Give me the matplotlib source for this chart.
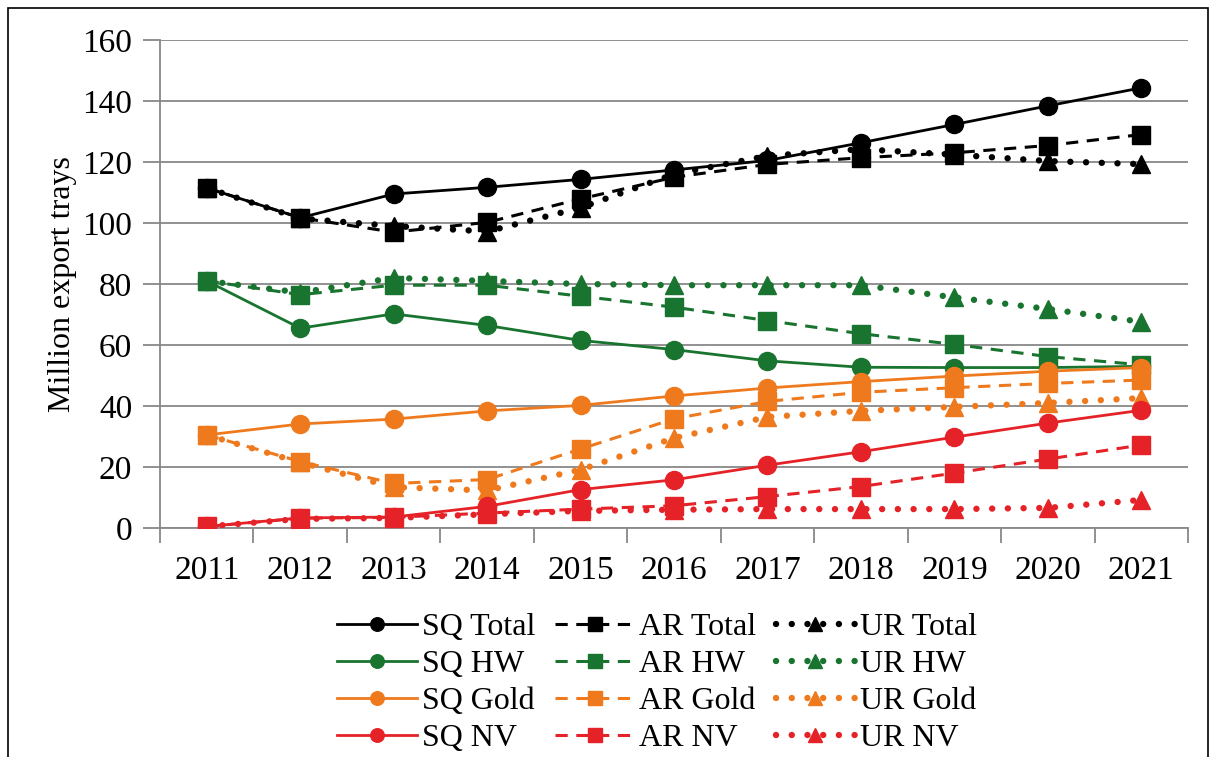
import matplotlib.pyplot as plt
from matplotlib.patches import Rectangle

years = [2011, 2012, 2013, 2014, 2015, 2016, 2017, 2018, 2019, 2020, 2021]

sq_total = [111.5, 101.7, 109.5, 111.7, 114.3, 117.4, 120.5, 126.3, 132.3, 138.4, 144.3]
ar_total = [111.5, 101.7, 97.0, 100.2, 107.9, 115.0, 119.2, 121.4, 123.0, 125.4, 129.0]
ur_total = [111.5, 101.5, 99.0, 97.2, 105.0, 116.0, 122.0, 124.2, 122.4, 120.3, 119.3]

sq_hw = [81.0, 65.5, 70.2, 66.4, 61.5, 58.5, 54.8, 52.7, 52.6, 52.6, 53.0]
ar_hw = [81.0, 76.5, 79.6, 79.6, 76.0, 72.4, 68.0, 63.7, 60.2, 56.2, 53.5]
ur_hw = [81.0, 77.2, 82.0, 81.0, 80.0, 79.6, 79.6, 79.6, 75.6, 71.8, 67.6]

sq_gold = [30.5, 34.1, 35.7, 38.4, 40.2, 43.3, 45.9, 48.0, 49.8, 51.4, 52.6]
ar_gold = [30.5, 21.8, 14.6, 15.9, 25.9, 35.8, 41.5, 44.5, 46.0, 47.4, 48.5]
ur_gold = [30.5, 21.5, 13.4, 12.3, 19.1, 29.5, 36.4, 38.4, 39.7, 41.0, 42.6]

sq_nv = [0.5, 3.3, 3.6, 7.1, 12.6, 15.8, 20.6, 25.0, 29.8, 34.4, 38.6]
ar_nv = [0.5, 3.2, 3.5, 4.9, 6.2, 7.3, 10.3, 13.6, 18.0, 22.6, 27.2]
ur_nv = [0.5, 3.0, 3.3, 4.5, 5.6, 6.0, 6.2, 6.2, 6.2, 6.6, 9.2]

black = '#000000'
green = '#19742f'
orange = '#ef7a1e'
red = '#e52227'

plt.rcParams['font.family'] = ['Liberation Serif', 'DejaVu Serif']

fig = plt.figure(figsize=(12.15, 7.57), dpi=100)
ax = fig.add_axes([0.1317, 0.3025, 0.9778 - 0.1317, 0.9472 - 0.3025])

groups = [
    ('Total', black, sq_total, ar_total, ur_total),
    ('HW', green, sq_hw, ar_hw, ur_hw),
    ('Gold', orange, sq_gold, ar_gold, ur_gold),
    ('NV', red, sq_nv, ar_nv, ur_nv),
]

sq_h, ar_h, ur_h = [], [], []
for name, col, sq, ar, ur in groups:
    l1, = ax.plot(years, sq, '-', color=col, lw=2.0, marker='o', ms=13,
                  mec=col, mfc=col, label='SQ ' + name, zorder=3)
    l2, = ax.plot(years, ar, color=col, lw=2.2, dashes=(4, 2.8), marker='s',
                  ms=13.5, mec=col, mfc=col, label='AR ' + name, zorder=3)
    l3, = ax.plot(years, ur, color=col, lw=4.6, dashes=(0.01, 2.45),
                  dash_capstyle='round', marker='^', ms=13.5, mec=col, mfc=col,
                  label='UR ' + name, zorder=3)
    sq_h.append(l1)
    ar_h.append(l2)
    ur_h.append(l3)

ax.set_xlim(2010.5, 2021.5)
ax.set_ylim(0, 160)
ax.set_xticks(years)
ax.set_xticks([y + 0.5 for y in [2010] + years], minor=True)
ax.set_yticks(range(0, 161, 20))
ax.tick_params(axis='x', which='major', length=0, pad=20, labelsize=24)
ax.tick_params(axis='x', which='minor', length=11, color='#888888', width=1.3)
ax.tick_params(axis='y', length=12, color='#888888', width=1.3, pad=8, labelsize=24)
ax.grid(axis='y', color='#888888', lw=1.3)
ax.set_axisbelow(True)
for s in ['top', 'right']:
    ax.spines[s].set_visible(False)
for s in ['left', 'bottom']:
    ax.spines[s].set_color('#888888')
    ax.spines[s].set_linewidth(1.3)

ax.set_ylabel('Million export trays', fontsize=23, labelpad=4)

handles = sq_h + ar_h + ur_h
labels = [h.get_label() for h in handles]
leg = fig.legend(handles, labels, ncol=3, loc='upper center',
                 bbox_to_anchor=(0.541, 0.208), frameon=False, fontsize=23,
                 handlelength=2.5, handletextpad=0.15, columnspacing=0.6,
                 labelspacing=0.24, markerscale=0.75, borderaxespad=0)

fig.patches.append(Rectangle((8 / 1215, -0.1), 1200 / 1215, 1.1 - 8 / 757,
                             transform=fig.transFigure, fill=False,
                             ec='black', lw=1.2))

plt.savefig('out.png')
